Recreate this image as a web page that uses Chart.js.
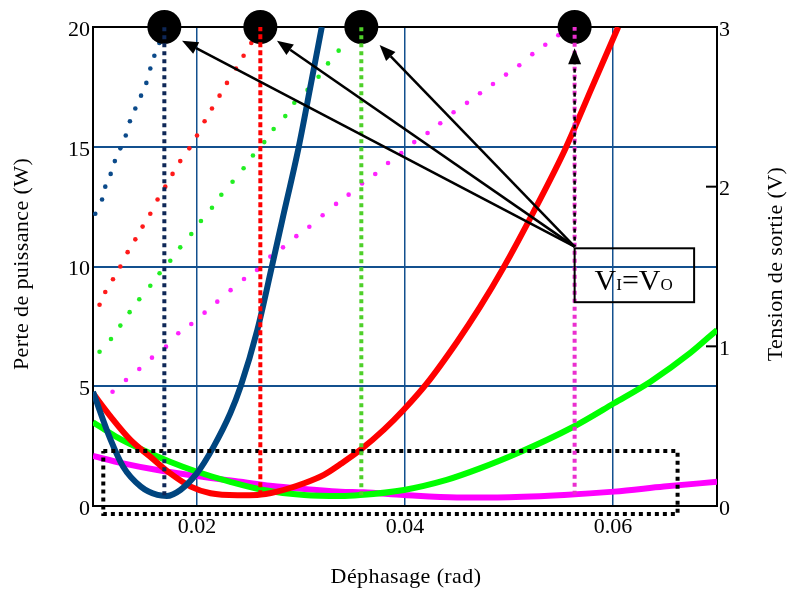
<!DOCTYPE html>
<html><head><meta charset="utf-8">
<script src="https://cdn.jsdelivr.net/npm/chart.js@4/dist/chart.umd.min.js"></script>
<style>html,body{margin:0;padding:0;background:#fff}#wrap{width:789px;height:592px;position:relative}</style>
</head><body><div id="wrap"><canvas id="c" width="789" height="592"></canvas></div>
<script>
// ---- axis ticks ----
const xTicks = [0.02, 0.04, 0.06];
const lossTicks = [0, 5, 10, 15, 20];
const voltTicks = [0, 1, 2, 3];

// ---- power loss curves (W, left axis) ----
const blueLossX = [0.0100, 0.0117, 0.0129, 0.0146, 0.0162, 0.0171, 0.0184, 0.0200, 0.0216, 0.0232, 0.0242, 0.0258, 0.0272, 0.0282, 0.0298, 0.0309, 0.0320];
const blueLossY = [4.77, 2.76, 1.64, 0.81, 0.46, 0.42, 0.67, 1.37, 2.48, 3.87, 5.00, 7.35, 10.0, 11.94, 15.03, 17.5, 20.0];
const redLossX = [0.0100, 0.0117, 0.0136, 0.0155, 0.0174, 0.0194, 0.0213, 0.0239, 0.0258, 0.0277, 0.0303, 0.0322, 0.0338, 0.0357, 0.0380, 0.0399, 0.0421, 0.0450, 0.0472, 0.0494, 0.0525, 0.0554, 0.0580, 0.0605];
const redLossY = [4.70, 3.73, 2.76, 2.06, 1.37, 0.81, 0.53, 0.45, 0.46, 0.60, 0.95, 1.30, 1.75, 2.34, 3.20, 4.03, 5.12, 6.85, 8.30, 9.90, 12.4, 14.9, 17.5, 20.0];
const greenLossX = [0.0100, 0.0122, 0.0148, 0.0174, 0.0200, 0.0232, 0.0264, 0.0303, 0.0338, 0.0357, 0.0399, 0.0440, 0.0472, 0.0508, 0.0562, 0.0601, 0.0636, 0.0674, 0.0700];
const greenLossY = [3.50, 2.90, 2.34, 1.85, 1.43, 1.01, 0.67, 0.46, 0.42, 0.46, 0.67, 1.09, 1.57, 2.20, 3.31, 4.29, 5.19, 6.38, 7.35];
const magLossX = [0.0100, 0.0129, 0.0162, 0.0200, 0.0242, 0.0277, 0.0315, 0.0338, 0.0360, 0.0399, 0.0450, 0.0489, 0.0553, 0.0601, 0.0649, 0.0700];
const magLossY = [2.09, 1.78, 1.50, 1.25, 1.01, 0.81, 0.67, 0.60, 0.57, 0.46, 0.36, 0.36, 0.46, 0.60, 0.81, 1.01];

// ---- output voltage (V, right axis), dotted ----
const blueVoltX = [0.01022, 0.01087, 0.01118, 0.01170, 0.01210, 0.01263, 0.01315, 0.01355, 0.01407, 0.01462, 0.01513, 0.01551, 0.01590, 0.01638];
const blueVoltY = [1.83, 1.92, 2.00, 2.08, 2.16, 2.24, 2.32, 2.41, 2.49, 2.57, 2.65, 2.74, 2.82, 2.90];
const redVoltX = [0.01063, 0.01118, 0.01192, 0.01263, 0.01333, 0.01407, 0.01477, 0.01551, 0.01621, 0.01695, 0.01765, 0.01839, 0.01926, 0.02000, 0.02073, 0.02144, 0.02217, 0.02288, 0.02375, 0.02448, 0.02522];
const redVoltY = [1.26, 1.34, 1.42, 1.50, 1.59, 1.67, 1.75, 1.83, 1.92, 2.00, 2.08, 2.16, 2.24, 2.32, 2.41, 2.49, 2.57, 2.65, 2.74, 2.82, 2.90];
const greenVoltX = [0.01063, 0.01173, 0.01263, 0.01352, 0.01445, 0.01551, 0.01640, 0.01743, 0.01839, 0.01945, 0.02038, 0.02144, 0.02234, 0.02342, 0.02448, 0.02538, 0.02647, 0.02737, 0.02849, 0.02936, 0.03063, 0.03169, 0.03260, 0.03362];
const greenVoltY = [0.966, 1.046, 1.130, 1.214, 1.295, 1.379, 1.458, 1.536, 1.620, 1.704, 1.785, 1.868, 1.949, 2.031, 2.115, 2.195, 2.279, 2.361, 2.442, 2.526, 2.606, 2.688, 2.772, 2.852];
const magVoltX = [0.01063, 0.01188, 0.01317, 0.01445, 0.01567, 0.01702, 0.01820, 0.01945, 0.02073, 0.02195, 0.02323, 0.02452, 0.02577, 0.02705, 0.02827, 0.02955, 0.03080, 0.03208, 0.03337, 0.03458, 0.03587, 0.03714, 0.03837, 0.03964, 0.04089, 0.04217, 0.04339, 0.04467, 0.04596, 0.04721, 0.04846, 0.04971, 0.05099, 0.05224, 0.05349, 0.05474];
const magVoltY = [0.638, 0.716, 0.789, 0.858, 0.929, 0.998, 1.082, 1.140, 1.211, 1.280, 1.352, 1.422, 1.478, 1.562, 1.620, 1.690, 1.749, 1.821, 1.892, 1.950, 2.020, 2.079, 2.148, 2.210, 2.279, 2.336, 2.397, 2.466, 2.525, 2.585, 2.643, 2.702, 2.760, 2.830, 2.889, 2.948];

// ---- operating points V_I = V_O ----
const opX = [0.01686, 0.02609, 0.0358, 0.05631];
const opLossMin = [0.45, 0.45, 0.45, 0.47];
const opTop = 20;
const labelText = ['V', 'I', '=', 'V', 'O'];
const labelBox = { x1: 0.05631, x2: 0.0678, y1: 10.76, y2: 8.51 };   // in axis units (x, W)
const arrowFrom = { x: 0.05631, y: 10.83 };
const arrowToX = [0.01856, 0.02769, 0.03756, 0.05631];
const arrowToY = [19.43, 19.43, 19.25, 19.11];
const zoomRect = { x1: 0.01099, x2: 0.06621, y1: -0.33, y2: 2.30 };

const titles = { x: 'Déphasage (rad)', yLeft: 'Perte de puissance (W)', yRight: 'Tension de sortie (V)' };

// ---- styling ----
const SERIF = '"Liberation Serif", "Times New Roman", serif';
const gridBlue = '#13508e';
const cBlue = '#00457f', cRed = '#ff0000', cGreen = '#00ff00', cMag = '#ff00ff';

function pts(xs, ys) { return xs.map((x, i) => ({ x: x, y: ys[i] })); }

const curve = (label, xs, ys, color) => ({
  label, type: 'line', data: pts(xs, ys), yAxisID: 'y', borderColor: color, borderWidth: 6,
  pointRadius: 0, cubicInterpolationMode: 'monotone', fill: false, order: 5
});
const dots = (label, xs, ys, color) => ({
  label, type: 'scatter', data: pts(xs, ys), yAxisID: 'y2', backgroundColor: color, borderWidth: 0,
  pointRadius: 2.3, showLine: false, order: 8
});
const vline = (label, i, color, dash) => ({
  label, type: 'line', data: [{ x: opX[i], y: opLossMin[i] }, { x: opX[i], y: opTop }], yAxisID: 'y',
  borderColor: color, borderWidth: 4, borderDash: dash, pointRadius: 0, tension: 0, clip: false, order: 1
});

const datasets = [
  dots('V blue', blueVoltX, blueVoltY, '#0b4a8a'),
  dots('V red', redVoltX, redVoltY, '#ff1a1a'),
  dots('V green', greenVoltX, greenVoltY, '#22ee22'),
  dots('V magenta', magVoltX, magVoltY, '#ff22ff'),
  curve('P blue', blueLossX, blueLossY, cBlue),
  curve('P red', redLossX, redLossY, cRed),
  curve('P green', greenLossX, greenLossY, cGreen),
  curve('P magenta', magLossX, magLossY, cMag),
  {
    label: 'zoom', type: 'line', yAxisID: 'y', order: 4, clip: false, tension: 0,
    data: [{ x: zoomRect.x1, y: zoomRect.y2 }, { x: zoomRect.x2, y: zoomRect.y2 }, { x: zoomRect.x2, y: zoomRect.y1 }, { x: zoomRect.x1, y: zoomRect.y1 }, { x: zoomRect.x1, y: zoomRect.y2 }],
    borderColor: '#000', borderWidth: 4, borderDash: [4, 4], pointRadius: 0
  },
  {
    label: 'op', type: 'scatter', yAxisID: 'y', order: 3, clip: false,
    data: opX.map(x => ({ x: x, y: opTop })), backgroundColor: '#000', borderWidth: 0, pointRadius: 17
  },
  vline('op blue', 0, '#0e2757', [4, 4]),
  vline('op red', 1, '#ff0000', [5, 3]),
  vline('op green', 2, '#4fd02a', [4, 4]),
  vline('op magenta', 3, '#ea2fcf', [4, 4])
];

const deco = {
  id: 'deco',
  beforeDatasetsDraw(chart) {
    const { ctx, chartArea: a } = chart;
    ctx.save();
    ctx.strokeStyle = '#000'; ctx.lineWidth = 2;
    ctx.strokeRect(a.left, a.top, a.right - a.left, a.bottom - a.top);
    const y2 = chart.scales.y2;
    voltTicks.forEach(v => {
      const py = y2.getPixelForValue(v);
      ctx.beginPath(); ctx.moveTo(a.right - 11, py); ctx.lineTo(a.right, py); ctx.stroke();
    });
    ctx.restore();
  },
  afterDatasetsDraw(chart) {
    const { ctx } = chart;
    const sx = chart.scales.x, sy = chart.scales.y;
    ctx.save();
    const fx = sx.getPixelForValue(arrowFrom.x), fy = sy.getPixelForValue(arrowFrom.y);
    arrowToX.forEach((tx, i) => {
      const px = sx.getPixelForValue(tx), py = sy.getPixelForValue(arrowToY[i]);
      const ang = Math.atan2(py - fy, px - fx);
      const L = 16, W = 6.5;
      const bx = px - L * Math.cos(ang), by = py - L * Math.sin(ang);
      ctx.strokeStyle = '#000'; ctx.lineWidth = 2.5;
      if (i === 3) { ctx.setLineDash([4, 4]); ctx.lineDashOffset = 2; } else ctx.setLineDash([]);
      ctx.beginPath(); ctx.moveTo(fx, fy); ctx.lineTo(bx, by); ctx.stroke();
      ctx.setLineDash([]);
      ctx.fillStyle = '#000';
      ctx.beginPath();
      ctx.moveTo(px, py);
      ctx.lineTo(bx + W * Math.sin(ang), by - W * Math.cos(ang));
      ctx.lineTo(bx - W * Math.sin(ang), by + W * Math.cos(ang));
      ctx.closePath(); ctx.fill();
    });
    const bl = sx.getPixelForValue(labelBox.x1), br = sx.getPixelForValue(labelBox.x2);
    const bt = sy.getPixelForValue(labelBox.y1), bb = sy.getPixelForValue(labelBox.y2);
    ctx.strokeStyle = '#000'; ctx.lineWidth = 2;
    ctx.strokeRect(bl, bt, br - bl, bb - bt);
    ctx.fillStyle = '#000'; ctx.textBaseline = 'alphabetic'; ctx.textAlign = 'left';
    let x = bl + 20; const base = bb - 12;
    labelText.forEach(t => {
      const small = (t === 'I' || t === 'O');
      ctx.font = (small ? 17 : 30) + 'px ' + SERIF;
      ctx.fillText(t, x, base);
      x += ctx.measureText(t).width;
    });
    ctx.restore();
  },
  afterDraw(chart) {
    const { ctx, chartArea: a } = chart;
    const drawTitle = (text, x, y, rot) => {
      ctx.save();
      ctx.fillStyle = '#000';
      ctx.font = '22px ' + SERIF;
      try { ctx.letterSpacing = '0.4px'; } catch (e) {}
      ctx.textAlign = 'center'; ctx.textBaseline = 'middle';
      ctx.translate(x, y);
      if (rot) ctx.rotate(rot);
      ctx.fillText(text, 0, 0);
      ctx.restore();
    };
    drawTitle(titles.x, (a.left + a.right) / 2 + 1, 577, 0);
    drawTitle(titles.yLeft, 22, 264, -Math.PI / 2);
    drawTitle(titles.yRight, 776, 264, -Math.PI / 2);
  }
};

const tickFont = { family: SERIF, size: 22 };

new Chart(document.getElementById('c'), {
  type: 'line',
  data: { datasets },
  options: {
    responsive: false, animation: false, devicePixelRatio: 1, events: [],
    layout: { padding: { top: 27, left: 0, right: 0, bottom: 0 } },
    plugins: { legend: { display: false }, tooltip: { enabled: false }, title: { display: false } },
    scales: {
      x: {
        type: 'linear', min: 0.01, max: 0.07,
        afterBuildTicks: s => { s.ticks = xTicks.map(v => ({ value: v })); },
        afterFit: s => { s.height = 86; },
        border: { display: false },
        grid: { color: gridBlue, lineWidth: 1.5, drawTicks: false },
        ticks: { font: tickFont, color: '#000', padding: 8, maxRotation: 0, autoSkip: false, callback: v => v.toFixed(2) }
      },
      y: {
        type: 'linear', position: 'left', min: 0, max: 20,
        afterBuildTicks: s => { s.ticks = lossTicks.map(v => ({ value: v })); },
        afterFit: s => { s.width = 93; },
        border: { display: false },
        grid: { color: c => (c.tick && (c.tick.value === 0 || c.tick.value === 20)) ? 'rgba(0,0,0,0)' : gridBlue, lineWidth: 2, drawTicks: false },
        ticks: { font: tickFont, color: '#000', padding: 3, labelOffset: 3, callback: v => String(v) }
      },
      y2: {
        type: 'linear', position: 'right', min: 0, max: 3,
        afterBuildTicks: s => { s.ticks = voltTicks.map(v => ({ value: v })); },
        afterFit: s => { s.width = 72; },
        border: { display: false },
        grid: { drawOnChartArea: false, drawTicks: false },
        ticks: { font: tickFont, color: '#000', padding: 2, labelOffset: 3, callback: v => String(v) }
      }
    }
  },
  plugins: [deco]
});
</script>
</body></html>
